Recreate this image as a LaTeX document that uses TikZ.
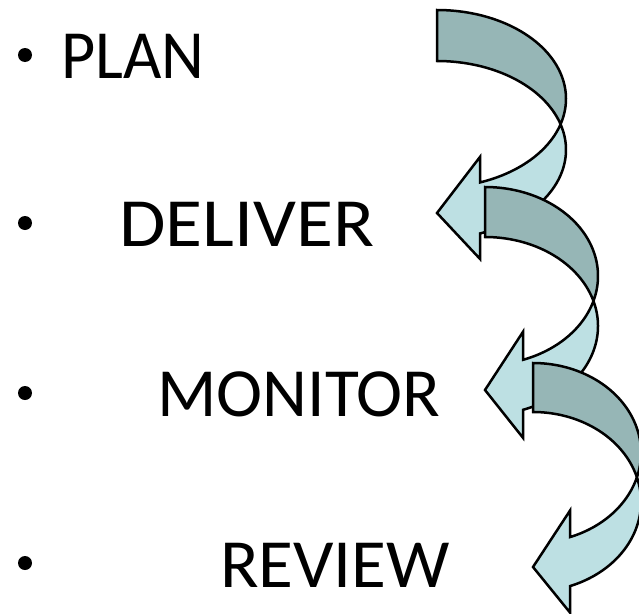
\documentclass[tikz,border=0pt]{standalone}
\usepackage{fontspec}
\setmainfont{Carlito}
\definecolor{darkteal}{RGB}{150,182,182}
\definecolor{lightteal}{RGB}{189,224,227}
\newcommand\cvarrow[7]{%
  \begin{scope}[shift={(#1,#2)}]
    \pgfmathsetmacro\aP{asin(#4/(2*#6))}
    \pgfmathsetmacro\tn{-acos(#7/#3)}
    \pgfmathsetmacro\dy{#6*sqrt(1-(#7/#3)^2)}
    \filldraw[lightpart] plot[domain=\aP:\tn, samples=60] ({#3*cos(\x)},{#6+#4-#6*sin(\x)})
      -- (#7,{#6+#4+\dy+(#5-#4)/2}) -- (0,{2*#6+#4/2}) -- (#7,{#6+\dy-(#5-#4)/2})
      -- plot[domain=\tn:-\aP, samples=60] ({#3*cos(\x)},{#6-#6*sin(\x)}) -- cycle;
    \filldraw[darkpart] plot[domain=90:-\aP, samples=70] ({#3*cos(\x)},{#6-#6*sin(\x)})
      -- plot[domain=\aP:90, samples=70] ({#3*cos(\x)},{#6+#4-#6*sin(\x)}) -- cycle;
  \end{scope}}
\tikzset{
  lightpart/.style={fill=lightteal, draw=black, line width=2.5pt},
  darkpart/.style={fill=darkteal, draw=black, line width=2.5pt},
  lbl/.style={font=\fontsize{69}{80}\selectfont, inner sep=0pt, anchor=base west},
  dot/.style={circle, fill=black, inner sep=0pt, minimum size=14pt}
}
\begin{document}
\begin{tikzpicture}[x=1pt,y=-1pt]
\useasboundingbox (0,0) rectangle (639,613);
\fill[white] (0,0) rectangle (639,613);
\node[dot] (b1) at (25,55) {};
\node[dot] (b2) at (25,223) {};
\node[dot] (b3) at (25,393) {};
\node[dot] (b4) at (25,563) {};
\node[lbl] (plan) at (61,78) {\scalebox{0.96}[1]{PLAN}};
\node[lbl] (deliver) at (119,246) {\scalebox{1.095}[1]{DELIVER}};
\node[lbl] (monitor) at (157,416) {\scalebox{1.007}[1]{MONITOR}};
\node[lbl] (review) at (220,587) {\scalebox{1.032}[1]{REVIEW}};
\cvarrow{437}{10}{129}{51}{102}{88.75}{43}
\cvarrow{485}{187}{113}{50}{106}{89}{38}
\cvarrow{533}{363}{108}{49}{102}{89.75}{37}
\end{tikzpicture}
\end{document}
